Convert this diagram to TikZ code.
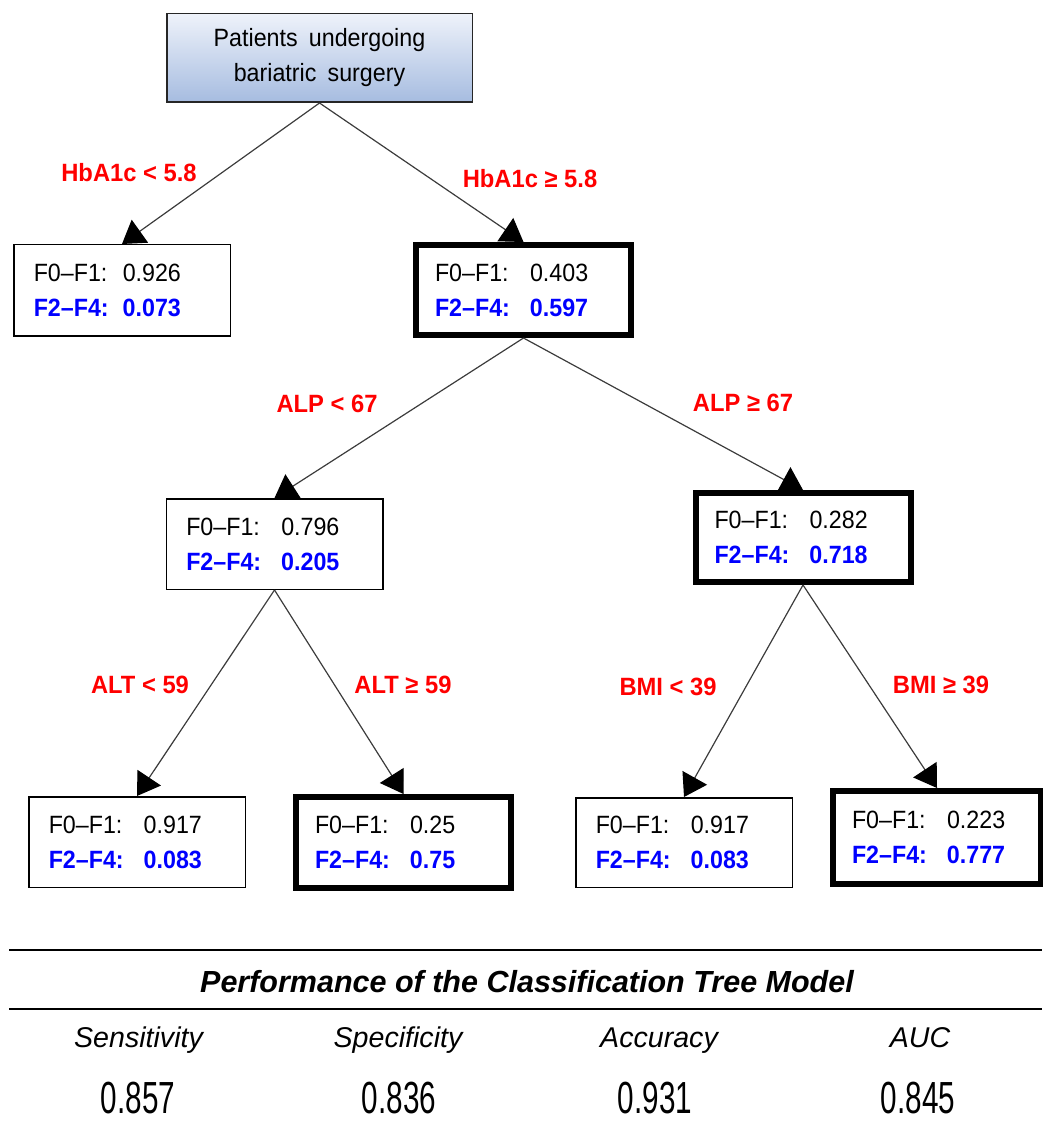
\documentclass[tikz,border=0pt]{standalone}
\usepackage{fontspec}
\setmainfont{Liberation Sans}
\newfontfamily\nodefont[FakeStretch=0.93]{Liberation Sans}
\newfontfamily\labfont[FakeStretch=0.95]{Liberation Sans}
\newfontfamily\numfont[FakeStretch=0.66]{Liberation Sans}
\usetikzlibrary{arrows.meta}
\definecolor{tblue}{HTML}{0000FF}
\definecolor{tred}{HTML}{FF0000}
\definecolor{shtop}{HTML}{EEF2FA}
\definecolor{shbot}{HTML}{A6BCE0}
\definecolor{conncol}{HTML}{3C3C3C}
\newcommand{\prow}[3]{\makebox[#1][l]{F0–F1:}#2\\{\color{tblue}\bfseries\makebox[#1][l]{F2–F4:}#3}}
\begin{document}
\begin{tikzpicture}[x=0.5pt,y=-0.5pt,
  thinbox/.style={draw=black, line width=0.75pt, fill=white, inner xsep=10pt, inner ysep=0pt, text width=88.25pt, align=left, font=\nodefont\fontsize{12.5}{17.5}\selectfont},
  thickbox/.style={thinbox, line width=3pt, inner xsep=9.5pt, text width=88.5pt},
  conn/.style={draw=conncol, line width=0.6pt, -{Triangle[length=11pt,width=14pt,color=black]}},
  lab/.style={anchor=base, text=tred, inner sep=0pt, font=\labfont\bfseries\fontsize{12.5}{15}\selectfont},
  hdr/.style={anchor=base, inner sep=0pt, font=\itshape\fontsize{14.3}{17}\selectfont},
  num/.style={anchor=base, inner sep=0pt, font=\numfont\fontsize{22.5}{26}\selectfont},
  rulel/.style={line width=1.35pt, draw=black}
]
\useasboundingbox (0,0) rectangle (1042,1122);
% root
\node[draw=black!85, line width=0.75pt, top color=shtop, bottom color=shbot,
      minimum width=152.75pt, minimum height=44.25pt, inner sep=0pt, align=center,
      font=\nodefont\fontsize{12.5}{17.5}\selectfont] (T) at (319.5,58) {Patients\hspace{0.45em}undergoing\\bariatric\hspace{0.45em}surgery};
% level 1
\node[thinbox, minimum height=45.75pt] (A) at (122,290.5) {\prow{44.5pt}{0.926}{0.073}};
\node[thickbox, minimum height=45pt] (B) at (523.5,290) {\prow{47.5pt}{0.403}{0.597}};
% level 2
\node[thinbox, minimum height=45.25pt] (C) at (274.5,544) {\prow{47.5pt}{0.796}{0.205}};
\node[thickbox, minimum height=44.5pt] (D) at (803,537.5) {\prow{47.5pt}{0.282}{0.718}};
% level 3
\node[thinbox, minimum height=45.25pt] (E) at (137,842) {\prow{47.5pt}{0.917}{0.083}};
\node[thickbox, minimum height=45.5pt] (F) at (403.5,842.5) {\prow{47.5pt}{0.25}{0.75}};
\node[thinbox, minimum height=44.75pt] (G) at (684,842.5) {\prow{47.5pt}{0.917}{0.083}};
\node[thickbox, minimum height=46.5pt, text width=85pt] (H) at (937,837.5) {\prow{47.5pt}{0.223}{0.777}};
% connectors
\draw[conn] (T.south) -- (A.north);
\draw[conn] (T.south) -- (B.north);
\draw[conn] (B.south) -- (C.north);
\draw[conn] (B.south) -- (D.north);
\draw[conn] (C.south) -- (E.north);
\draw[conn] (C.south) -- (F.north);
\draw[conn] (D.south) -- (G.north);
\draw[conn] (D.south) -- (H.north);
% split labels
\node[lab] (l1) at (129,182) {HbA1c < 5.8};
\node[lab] (l2) at (530,188) {HbA1c ≥ 5.8};
\node[lab] (l3) at (327,413) {ALP < 67};
\node[lab] (l4) at (743,411) {ALP ≥ 67};
\node[lab] (l5) at (140,693) {ALT < 59};
\node[lab] (l6) at (403,693) {ALT ≥ 59};
\node[lab] (l7) at (668,695) {BMI < 39};
\node[lab] (l8) at (941,693) {BMI ≥ 39};
% performance table
\draw[rulel] (9,950) -- (1042,950);
\draw[rulel] (9,1009) -- (1042,1009);
\node[anchor=base, inner sep=0pt, font=\bfseries\itshape\fontsize{15.25}{18}\selectfont] (pt) at (527,992) {Performance of the Classification Tree Model};
\node[hdr] (h1) at (138.5,1047) {Sensitivity};
\node[hdr] (h2) at (398,1047) {Specificity};
\node[hdr] (h3) at (659,1047) {Accuracy};
\node[hdr] (h4) at (920,1047) {AUC};
\node[num] (n1) at (138,1113) {0.857};
\node[num] (n2) at (399,1113) {0.836};
\node[num] (n3) at (655,1113) {0.931};
\node[num] (n4) at (918,1113) {0.845};
\end{tikzpicture}
\end{document}
